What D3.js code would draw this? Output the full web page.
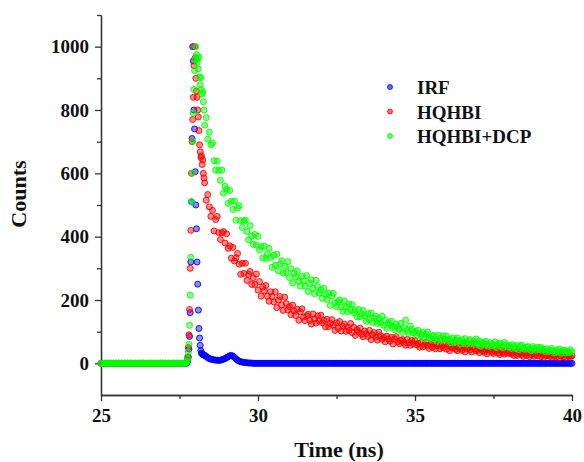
<!DOCTYPE html>
<html>
<head>
<meta charset="utf-8">
<script src="https://cdn.jsdelivr.net/npm/d3@7"></script>
<style>
  body { margin: 0; background: #fff; }
  svg text { font-family: 'Liberation Serif', 'Times New Roman', serif; font-weight: bold; fill: #111; }
  .axis path, .axis line { stroke: #333; stroke-width: 1.3; }
</style>
</head>
<body>
<svg id="chart" width="584" height="462"></svg>
<script>
'use strict'

// channel grid (ns): coarse before the pulse, fine around the peak, coarse for the decay
const baseTime = d3.range(54).map(i => 25 + i * 0.05)
const peakTime = d3.range(30).map(i => 27.7 + i * 0.02)
const tailTime = d3.range(235).map(i => 28.3 + i * 0.05)
const time = baseTime.concat(peakTime, tailTime)

const baseline = [
  0, 0, 0, 0, 0, 0, 0, 0, 0, 0,
  0, 0, 0, 0, 0, 0, 0, 0, 0, 0,
  0, 0, 0, 0, 0, 0, 0, 0, 0, 0,
  0, 0, 0, 0, 0, 0, 0, 0, 0, 0,
  0, 0, 0, 0, 0, 0, 0, 0, 0, 0,
  0, 0, 0, 0
]

const irfPeak = [0, 1, 3, 8, 20, 45, 85, 160, 320, 510, 710, 1000, 955, 800, 740,
  605, 500, 425, 320, 250, 168, 110, 80, 57, 40, 32, 30, 28, 27, 26]
const irfTail = [
  25, 22, 18, 15, 13, 12, 11, 10, 10, 9, 10, 11, 13, 15,
  18, 21, 24, 25, 23, 19, 14, 10, 7, 5, 4, 3, 2, 2, 1, 1, 1, 0, 0, 0,
  0, 0, 0, 0, 0, 0, 0, 0, 0, 0, 0, 0, 0, 0, 0, 0, 0, 0, 0, 0,
  0, 0, 0, 0, 0, 0, 0, 0, 0, 0, 0, 0, 0, 0, 0, 0, 0, 0, 0, 0,
  0, 0, 0, 0, 0, 0, 0, 0, 0, 0, 0, 0, 0, 0, 0, 0, 0, 0, 0, 0,
  0, 0, 0, 0, 0, 0, 0, 0, 0, 0, 0, 0, 0, 0, 0, 0, 0, 0, 0, 0,
  0, 0, 0, 0, 0, 0, 0, 0, 0, 0, 0, 0, 0, 0, 0, 0, 0, 0, 0, 0,
  0, 0, 0, 0, 0, 0, 0, 0, 0, 0, 0, 0, 0, 0, 0, 0, 0, 0, 0, 0,
  0, 0, 0, 0, 0, 0, 0, 0, 0, 0, 0, 0, 0, 0, 0, 0, 0, 0, 0, 0,
  0, 0, 0, 0, 0, 0, 0, 0, 0, 0, 0, 0, 0, 0, 0, 0, 0, 0, 0, 0,
  0, 0, 0, 0, 0, 0, 0, 0, 0, 0, 0, 0, 0, 0, 0, 0, 0, 0, 0, 0,
  0, 0, 0, 0, 0, 0, 0, 0, 0, 0, 0, 0, 0, 0, 0, 0, 0, 0, 0, 0,
  0
]

const hqhbiPeak = [2, 4, 8, 20, 50, 90, 170, 300, 420, 600, 700, 770, 840, 940, 1000,
  965, 900, 860, 840, 800, 778, 735, 690, 668, 650, 655, 628, 642, 600, 585]
const hqhbiTail = [
  570, 515, 533, 494, 464, 483, 418, 454, 464, 413, 391, 412, 416, 380,
  409, 363, 371, 332, 366, 323, 333, 347, 313, 281, 316, 284, 316, 262, 281, 290, 249, 270, 249, 282,
  231, 258, 212, 241, 229, 246, 212, 196, 226, 211, 194, 226, 176, 200, 211, 185, 167, 209, 189, 169,
  179, 154, 184, 165, 151, 171, 136, 163, 172, 146, 135, 150, 155, 136, 124, 156, 140, 127, 150, 134,
  152, 128, 136, 115, 139, 116, 126, 138, 121, 104, 128, 111, 132, 102, 116, 124, 101, 115, 104, 126,
  97, 114, 88, 106, 99, 111, 92, 84, 102, 94, 85, 104, 75, 90, 97, 83, 73, 98, 87, 76,
  82, 68, 86, 77, 70, 82, 61, 77, 84, 68, 62, 72, 75, 64, 57, 75, 65, 57, 72, 62,
  72, 58, 63, 51, 66, 52, 58, 66, 56, 47, 60, 51, 64, 46, 55, 60, 46, 55, 49, 62,
  45, 56, 40, 52, 48, 56, 44, 40, 51, 47, 41, 54, 36, 46, 50, 42, 36, 52, 45, 39,
  43, 34, 46, 40, 35, 43, 30, 41, 45, 35, 31, 38, 41, 32, 28, 41, 34, 29, 39, 32,
  39, 30, 33, 25, 35, 25, 30, 35, 28, 22, 32, 25, 34, 21, 28, 32, 22, 28, 24, 33,
  21, 29, 19, 26, 24, 30, 22, 19, 27, 24, 20, 29, 17, 23, 27, 21, 18, 29, 24, 20,
  24
]

const dcpPeak = [1, 3, 6, 15, 35, 60, 120, 215, 335, 510, 600, 700, 790, 865, 925,
  960, 1000, 975, 950, 960, 930, 968, 905, 880, 902, 865, 850, 856, 826, 800]
const dcpTail = [
  752, 776, 708, 730, 690, 696, 640, 610, 638, 609, 578, 610, 537, 559,
  550, 505, 546, 512, 486, 513, 452, 490, 498, 451, 429, 449, 452, 416, 390, 435, 402, 376, 407, 374,
  401, 358, 369, 333, 370, 331, 345, 363, 334, 303, 341, 310, 345, 292, 313, 324, 285, 307, 287, 321,
  271, 299, 254, 284, 273, 292, 259, 244, 275, 261, 244, 277, 227, 252, 263, 237, 220, 262, 242, 222,
  232, 205, 237, 217, 202, 222, 183, 212, 221, 191, 179, 195, 200, 178, 164, 197, 178, 163, 187, 168,
  185, 160, 168, 147, 170, 147, 156, 167, 150, 133, 156, 138, 159, 129, 142, 149, 126, 140, 128, 149,
  120, 136, 111, 128, 122, 133, 114, 106, 124, 116, 107, 126, 97, 112, 136, 104, 94, 118, 107, 96,
  101, 87, 104, 94, 87, 98, 77, 93, 99, 82, 76, 86, 88, 78, 71, 89, 79, 72, 86, 76,
  86, 72, 77, 65, 80, 66, 73, 80, 71, 61, 74, 66, 78, 61, 69, 75, 61, 70, 64, 77,
  59, 70, 54, 66, 62, 70, 58, 54, 65, 61, 55, 68, 50, 60, 64, 56, 50, 66, 59, 53,
  56, 47, 59, 53, 47, 56, 43, 54, 58, 47, 44, 51, 53, 45, 40, 53, 47, 41, 51, 44,
  51, 41, 45, 37, 46, 37, 41, 47, 39, 33, 42, 36, 45, 32, 39, 42, 33, 38, 34, 43,
  36
]

const series = [
  { name: 'IRF', color: '#0000ff', counts: baseline.concat(irfPeak, irfTail) },
  { name: 'HQHBI', color: '#ff0000', counts: baseline.concat(hqhbiPeak, hqhbiTail) },
  { name: 'HQHBI+DCP', color: '#00ff00', counts: baseline.concat(dcpPeak, dcpTail) }
]
series.forEach(s => console.assert(s.counts.length === time.length, s.name, s.counts.length))

const xTicks = [25, 30, 35, 40]
const xMinor = [27.5, 32.5, 37.5]
const yTicks = [0, 200, 400, 600, 800, 1000]
const yMinor = [100, 300, 500, 700, 900, 1100]

const svg = d3.select('#chart')
const x = d3.scaleLinear().domain([25, 40]).range([101, 572])
const y = d3.scaleLinear().domain([-100, 1100]).range([395, 15])

// axes
svg.append('g').attr('class', 'axis')
  .attr('transform', `translate(0,${y(-100)})`)
  .call(d3.axisBottom(x).tickValues(xMinor).tickSize(4).tickSizeOuter(0).tickFormat(''))
const xAxis = svg.append('g').attr('class', 'axis')
  .attr('transform', `translate(0,${y(-100)})`)
  .call(d3.axisBottom(x).tickValues(xTicks).tickSize(6).tickSizeOuter(0).tickPadding(8))
xAxis.selectAll('text').style('font-size', '19px')

svg.append('g').attr('class', 'axis')
  .attr('transform', `translate(${x(25)},0)`)
  .call(d3.axisLeft(y).tickValues(yMinor).tickSize(4).tickSizeOuter(0).tickFormat(''))
const yAxis = svg.append('g').attr('class', 'axis')
  .attr('transform', `translate(${x(25)},0)`)
  .call(d3.axisLeft(y).tickValues(yTicks).tickSize(6).tickSizeOuter(0).tickPadding(6).tickFormat(d3.format('d')))
yAxis.selectAll('text').style('font-size', '19px')

svg.append('text')
  .attr('x', 339).attr('y', 457)
  .attr('text-anchor', 'middle')
  .style('font-size', '22px')
  .text('Time (ns)')

svg.append('text')
  .attr('transform', 'translate(26,194) rotate(-90)')
  .attr('text-anchor', 'middle')
  .style('font-size', '22px')
  .text('Counts')

// data points
series.forEach(s => {
  svg.append('g')
    .selectAll('circle')
    .data(s.counts)
    .join('circle')
    .attr('cx', (d, i) => x(time[i]))
    .attr('cy', d => y(d))
    .attr('r', 3)
    .attr('fill', s.color)
    .attr('fill-opacity', 0.45)
    .attr('stroke', s.color)
    .attr('stroke-width', 0.9)
})

// legend
const legend = svg.append('g')
  .selectAll('g')
  .data(series)
  .join('g')
  .attr('transform', (d, i) => `translate(390,${87 + i * 24.5})`)
legend.append('circle')
  .attr('r', 2.5)
  .attr('fill', d => d.color)
  .attr('fill-opacity', 0.6)
  .attr('stroke', d => d.color)
  .attr('stroke-width', 0.8)
legend.append('text')
  .attr('x', 27).attr('y', 7)
  .style('font-size', '19px')
  .text(d => d.name)
</script>
</body>
</html>
